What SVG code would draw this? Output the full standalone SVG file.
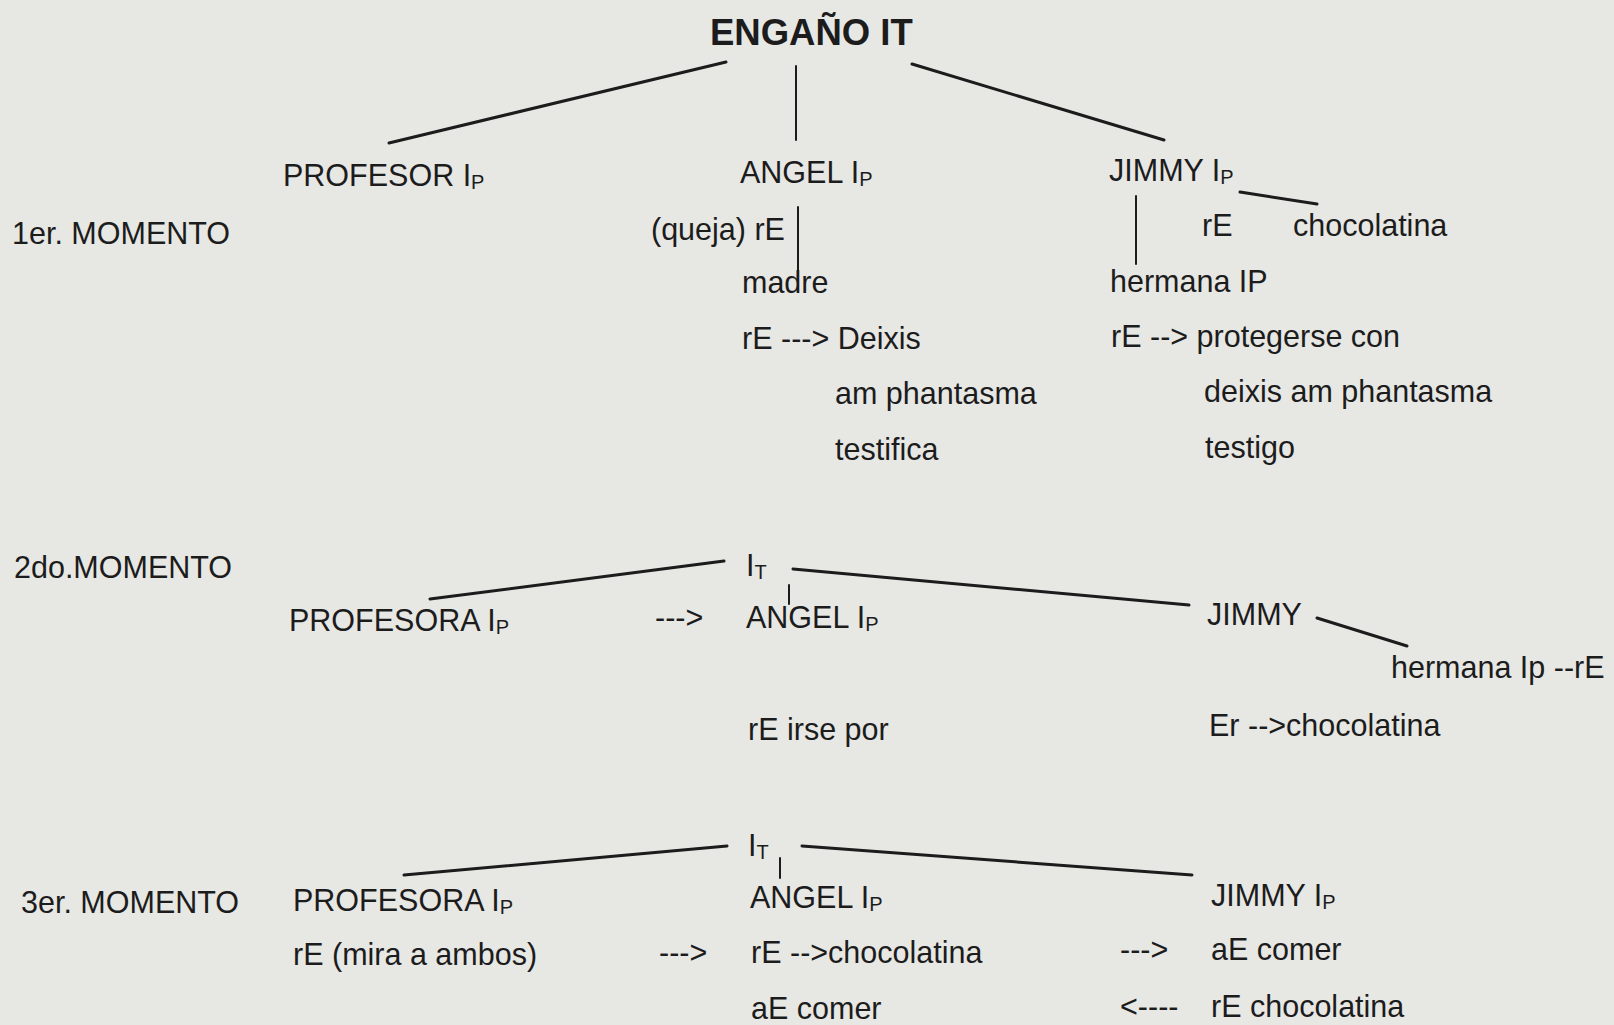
<svg xmlns="http://www.w3.org/2000/svg" width="1614" height="1025" viewBox="0 0 1614 1025">
<style>
text{font-family:"Liberation Sans",Arial,sans-serif;font-size:30.5px;fill:#1c1c1c}
.t{font-size:36.5px;font-weight:bold}
.s{font-size:20px}
.c line{stroke:#1c1c1c;stroke-width:3;stroke-linecap:round}
.c line.v{stroke-width:2}
</style>
<rect width="1614" height="1025" fill="#e7e7e4"/>
<g class="c" id="connectors">
<line x1="726" y1="62" x2="389" y2="143"/>
<line class="v" x1="796" y1="66" x2="796" y2="140"/>
<line x1="912" y1="64" x2="1164" y2="140"/>
<line class="v" x1="798" y1="207" x2="798" y2="276"/>
<line class="v" x1="1136" y1="196" x2="1136" y2="264"/>
<line x1="1240" y1="192" x2="1317" y2="204"/>
<line x1="724" y1="561" x2="430" y2="599"/>
<line x1="793" y1="569" x2="1189" y2="605"/>
<line class="v" x1="789" y1="585" x2="789" y2="604"/>
<line x1="1317" y1="618" x2="1407" y2="646"/>
<line x1="727" y1="846" x2="404" y2="875"/>
<line x1="802" y1="846" x2="1192" y2="875"/>
<line class="v" x1="780" y1="858" x2="780" y2="878"/>
</g>
<g id="title"><text class="t" x="710" y="45">ENGAÑO IT</text></g>
<g id="m1"><text x="12" y="244">1er. MOMENTO</text></g>
<g id="m2"><text x="14" y="578">2do.MOMENTO</text></g>
<g id="m3"><text x="21" y="913">3er. MOMENTO</text></g>
<g id="profesor1"><text x="283" y="186">PROFESOR I<tspan class="s" dy="3">P</tspan></text></g>
<g id="angel1"><text x="740" y="183">ANGEL I<tspan class="s" dy="3">P</tspan></text>
<text x="651" y="240">(queja) rE</text>
<text x="742" y="293">madre</text>
<text x="742" y="349">rE ---&gt; Deixis</text>
<text x="835" y="404">am phantasma</text>
<text x="835" y="460">testifica</text></g>
<g id="jimmy1"><text x="1109" y="181">JIMMY I<tspan class="s" dy="3">P</tspan></text>
<text x="1202" y="236">rE</text>
<text x="1293" y="236">chocolatina</text>
<text x="1110" y="292">hermana IP</text>
<text x="1111" y="347">rE --&gt; protegerse con</text>
<text x="1204" y="402">deixis am phantasma</text>
<text x="1205" y="458">testigo</text></g>
<g id="it2"><text x="746" y="576">I<tspan class="s" dy="3">T</tspan></text></g>
<g id="profesora2"><text x="289" y="631">PROFESORA I<tspan class="s" dy="3">P</tspan></text></g>
<g id="arrow2"><text x="655" y="628">---&gt;</text></g>
<g id="angel2"><text x="746" y="628">ANGEL I<tspan class="s" dy="3">P</tspan></text>
<text x="748" y="740">rE irse por</text></g>
<g id="jimmy2"><text x="1207" y="625">JIMMY</text>
<text x="1209" y="736">Er --&gt;chocolatina</text></g>
<g id="hermana2"><text x="1391" y="678">hermana Ip --rE</text></g>
<g id="it3"><text x="748" y="856">I<tspan class="s" dy="3">T</tspan></text></g>
<g id="profesora3"><text x="293" y="911">PROFESORA I<tspan class="s" dy="3">P</tspan></text>
<text x="293" y="965">rE (mira a ambos)</text></g>
<g id="arrows3"><text x="659" y="963">---&gt;</text>
<text x="1120" y="960">---&gt;</text>
<text x="1120" y="1017">&lt;----</text></g>
<g id="angel3"><text x="750" y="908">ANGEL I<tspan class="s" dy="3">P</tspan></text>
<text x="751" y="963">rE --&gt;chocolatina</text>
<text x="751" y="1019">aE comer</text></g>
<g id="jimmy3"><text x="1211" y="906">JIMMY I<tspan class="s" dy="3">P</tspan></text>
<text x="1211" y="960">aE comer</text>
<text x="1211" y="1017">rE chocolatina</text></g>
</svg>
